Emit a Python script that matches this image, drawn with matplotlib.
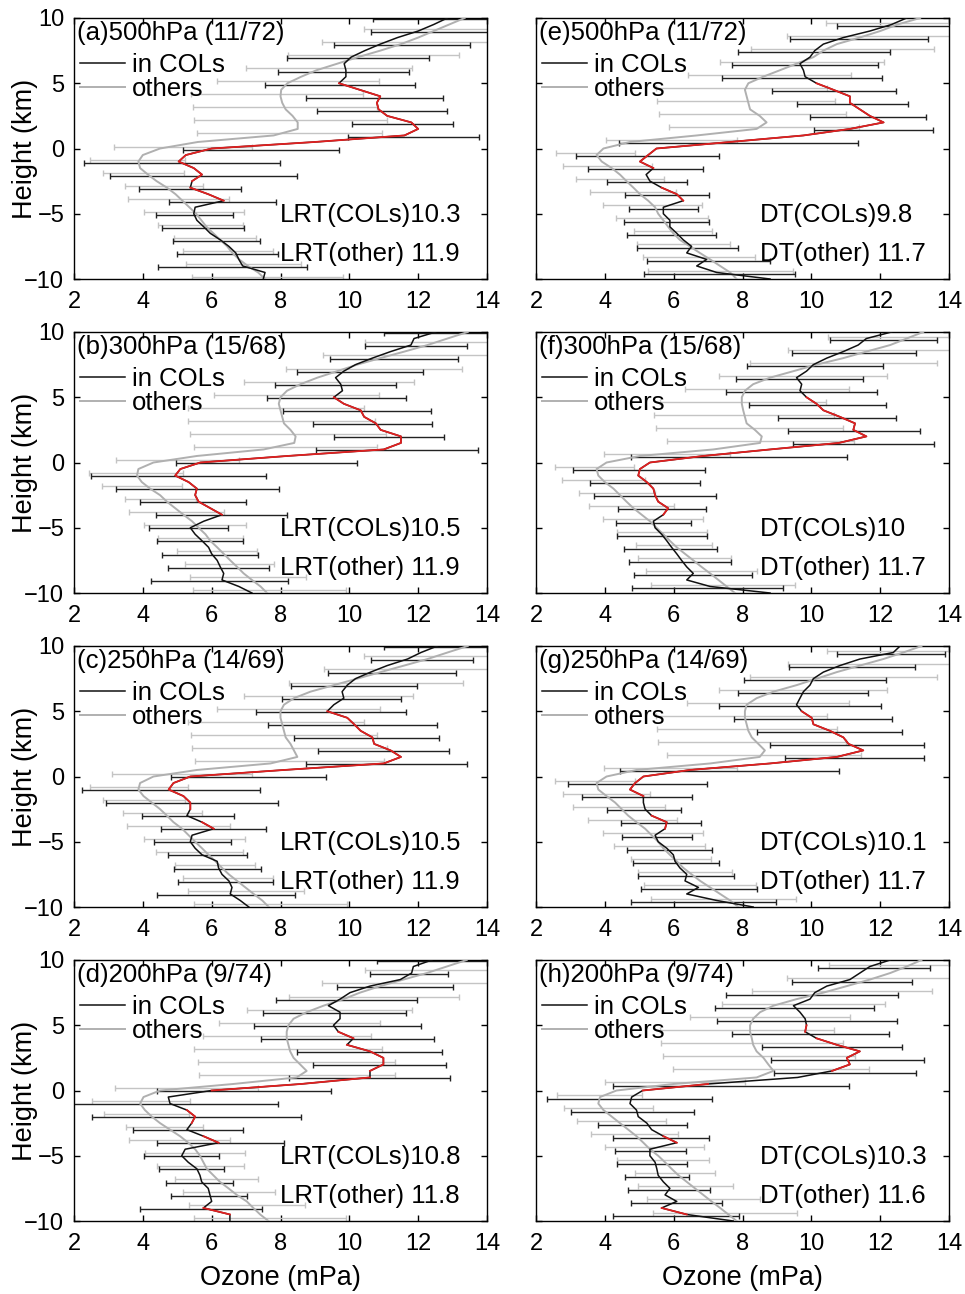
"""Ozone profiles relative to the tropopause, inside cut-off lows vs. other soundings.

Eight panels: left column uses the lapse-rate tropopause (LRT), right column the
dynamical tropopause (DT), rows are the COL detection level.
"""

import matplotlib
matplotlib.use("Agg")
import matplotlib.pyplot as plt
import numpy as np

plt.rcParams["font.family"] = ["Liberation Sans", "DejaVu Sans"]

# height relative to the tropopause (km), top to bottom, 0.5 km step
HEIGHTS = np.linspace(10, -10, 41)
N_BARS = 20

# ---------------------------------------------------------------- (a) LRT 500 hPa
A_COL = [12.85, 12.45, 12.0, 11.4, 10.9, 10.45, 10.05, 9.85, 9.9, 9.9,
         9.7, 10.3, 10.9, 10.8, 10.85, 11.1, 11.8, 12.0, 11.6, 9.0,
         6.0, 5.25, 5.04, 5.48, 5.72, 5.43, 5.38, 5.9, 6.35, 5.52,
         5.48, 5.57, 5.77, 5.96, 6.25, 6.5, 6.7, 6.79, 6.9, 7.55, 7.5]
A_OTH = [13.35, 12.9, 12.45, 12.0, 11.5, 10.9, 10.25, 9.65, 9.05, 8.6,
         8.2, 8.02, 8.0, 8.05, 8.15, 8.35, 8.5, 8.5, 7.8, 5.6,
         4.5, 4.0, 3.87, 3.92, 4.15, 4.4, 4.7, 4.95, 5.15, 5.35,
         5.55, 5.7, 5.85, 6.05, 6.25, 6.45, 6.6, 6.8, 7.05, 7.35, 7.55]
A_COL_LO = [10.7, 10.62, 9.55, 8.19, 7.92, 7.56, 8.75, 9.07, 10.09, 9.96,
            5.18, 2.29, 3.05, 3.9, 4.77, 4.39, 4.57, 4.89, 4.99, 4.43]
A_COL_HI = [14.5, 14.3, 13.5, 12.32, 11.74, 11.91, 12.71, 12.83, 13.0, 13.78,
            9.7, 7.98, 8.47, 6.85, 7.88, 6.62, 6.93, 7.39, 7.92, 8.76]
A_OTH_LO = [10.43, 9.21, 8.21, 7.0, 6.16, 5.4, 5.46, 5.5, 5.57, 3.15,
            2.47, 2.85, 3.47, 3.56, 4.02, 4.43, 4.92, 5.16, 5.25, 5.43]
A_OTH_HI = [14.3, 14.5, 13.19, 11.81, 10.86, 10.4, 10.8, 11.1, 10.95, 7.17,
            5.23, 5.2, 5.74, 6.5, 6.95, 6.91, 7.3, 7.78, 8.61, 9.83]

# ---------------------------------------------------------------- (b) LRT 300 hPa
B_COL = [12.51, 11.88, 11.79, 11.2, 10.67, 10.18, 9.84, 9.6, 9.75, 9.8,
         9.55, 9.84, 10.33, 10.43, 10.77, 10.91, 11.5, 11.5, 11.0, 8.2,
         5.67, 5.09, 4.94, 5.33, 5.57, 5.52, 5.62, 5.96, 6.3, 5.77,
         5.38, 5.52, 5.72, 5.91, 6.0, 6.16, 6.25, 6.35, 6.3, 6.79, 7.17]
B_OTH = [13.44, 12.85, 12.27, 11.6, 10.9, 10.23, 9.65, 9.07, 8.58, 8.19,
         8.0, 7.95, 8.0, 8.05, 8.1, 8.29, 8.44, 8.4, 7.51, 5.57,
         4.31, 3.87, 3.83, 3.97, 4.21, 4.5, 4.7, 4.94, 5.18, 5.43,
         5.62, 5.82, 5.96, 6.16, 6.35, 6.54, 6.74, 6.93, 7.17, 7.42, 7.61]
B_COL_LO = [11.0, 10.46, 9.44, 8.47, 7.85, 7.61, 8.07, 8.94, 9.55, 9.02,
            4.97, 2.5, 3.21, 3.92, 4.38, 4.17, 4.41, 4.57, 4.72, 4.23]
B_COL_HI = [14.5, 13.41, 13.17, 12.13, 11.35, 11.64, 12.37, 12.39, 12.76, 13.73,
            10.21, 7.58, 7.95, 7.0, 8.19, 6.47, 6.91, 7.34, 7.66, 8.21]
B_OTH_LO = [10.46, 9.23, 8.17, 6.95, 6.08, 5.3, 5.3, 5.36, 5.5, 3.22,
            2.44, 2.8, 3.47, 3.61, 4.04, 4.43, 4.99, 5.23, 5.36, 5.46]
B_OTH_HI = [14.3, 14.4, 13.27, 11.88, 10.86, 10.43, 10.74, 11.06, 10.8, 6.79,
            5.18, 5.14, 5.55, 6.37, 7.0, 6.91, 7.32, 7.81, 8.73, 9.89]

# ---------------------------------------------------------------- (c) LRT 250 hPa
C_COL = [12.56, 12.08, 11.69, 11.1, 10.62, 10.18, 9.94, 9.79, 9.84, 9.55,
         9.36, 9.94, 10.14, 10.33, 10.67, 10.72, 11.2, 11.5, 11.0, 8.1,
         5.38, 4.89, 4.75, 5.18, 5.38, 5.38, 5.28, 5.72, 6.06, 5.43,
         5.38, 5.52, 5.72, 6.16, 6.2, 6.3, 6.5, 6.59, 6.54, 6.83, 7.08]
C_OTH = [13.44, 12.85, 12.27, 11.59, 10.91, 10.23, 9.55, 8.87, 8.39, 8.1,
         8.0, 8.0, 8.05, 8.1, 8.15, 8.29, 8.39, 8.49, 7.71, 5.57,
         4.31, 3.92, 3.87, 4.02, 4.26, 4.5, 4.7, 4.89, 5.14, 5.33,
         5.52, 5.72, 5.91, 6.11, 6.3, 6.5, 6.74, 6.98, 7.22, 7.47, 7.66]
C_COL_LO = [11.0, 10.62, 9.38, 8.31, 8.05, 7.29, 7.64, 8.39, 9.09, 8.75,
            4.83, 2.22, 2.92, 3.99, 4.53, 4.31, 4.73, 4.92, 5.02, 4.41]
C_COL_HI = [14.5, 13.58, 13.1, 11.98, 11.5, 11.66, 12.56, 12.61, 12.9, 13.42,
            9.31, 7.4, 7.92, 6.64, 7.58, 6.56, 7.03, 7.44, 7.78, 8.41]
C_OTH_LO = [10.43, 9.26, 8.24, 6.93, 6.16, 5.3, 5.4, 5.43, 5.52, 3.1,
            2.47, 2.83, 3.42, 3.55, 4.02, 4.39, 4.94, 5.16, 5.3, 5.48]
C_OTH_HI = [14.3, 14.4, 13.29, 11.85, 10.89, 10.43, 10.8, 11.1, 11.0, 7.17,
            5.3, 5.23, 5.72, 6.52, 6.98, 6.9, 7.27, 7.78, 8.68, 9.92]

# ---------------------------------------------------------------- (d) LRT 200 hPa
D_COL = [12.4, 11.86, 11.81, 11.48, 10.6, 10.02, 9.73, 9.39, 9.73, 9.73,
         9.54, 9.68, 10.12, 9.93, 10.6, 10.99, 10.99, 10.6, 10.6, 8.6,
         6.0, 4.74, 4.79, 5.28, 5.52, 5.42, 5.28, 5.76, 6.2, 5.23,
         5.13, 5.32, 5.57, 5.66, 5.71, 5.9, 5.95, 6.0, 5.76, 6.53, 6.53]
D_OTH = [13.41, 12.83, 12.25, 11.57, 10.9, 10.31, 9.83, 9.25, 8.76, 8.38,
         8.23, 8.18, 8.18, 8.23, 8.28, 8.38, 8.57, 8.76, 8.47, 6.63,
         4.5, 4.02, 3.92, 4.06, 4.26, 4.5, 4.79, 5.08, 5.32, 5.52,
         5.66, 5.76, 5.86, 6.05, 6.24, 6.49, 6.73, 7.02, 7.21, 7.41, 7.65]
D_COL_LO = [10.8, 10.59, 9.64, 7.87, 7.5, 7.23, 7.44, 8.49, 8.94, 8.26,
            4.4, 1.79, 2.51, 3.71, 4.42, 4.04, 4.48, 4.66, 4.82, 3.92]
D_COL_HI = [14.5, 12.88, 13.0, 11.96, 11.64, 12.08, 12.47, 12.69, 12.81, 12.93,
            9.47, 7.94, 8.6, 6.92, 8.09, 6.2, 6.37, 6.63, 7.04, 7.47]
D_OTH_LO = [10.46, 9.2, 8.26, 7.04, 6.22, 5.75, 5.49, 5.59, 5.63, 3.19,
            2.53, 2.87, 3.5, 3.61, 4.06, 4.42, 4.94, 5.16, 5.34, 5.5]
D_OTH_HI = [14.3, 14.4, 13.2, 11.82, 10.88, 10.62, 10.96, 11.33, 11.33, 7.36,
            5.37, 5.34, 5.74, 6.52, 6.97, 6.94, 7.36, 7.84, 8.71, 9.9]

# ---------------------------------------------------------------- (e) DT 500 hPa
E_COL = [12.77, 12.33, 11.7, 10.93, 10.35, 10.1, 9.96, 9.67, 9.77, 9.82,
         10.15, 10.64, 11.12, 11.12, 11.41, 11.7, 12.1, 11.12, 9.77, 7.64,
         5.5, 5.26, 5.02, 5.41, 5.2, 5.31, 5.65, 6.09, 6.28, 5.7,
         5.7, 5.89, 5.89, 6.09, 6.28, 6.52, 6.38, 6.96, 6.67, 7.25, 8.8]
E_OTH = [13.16, 12.5, 12.0, 11.4, 10.74, 10.35, 10.06, 9.57, 9.09, 8.6,
         8.17, 8.07, 8.12, 8.17, 8.22, 8.5, 8.7, 8.41, 6.67, 4.73,
         3.96, 3.76, 3.91, 4.2, 4.44, 4.63, 4.83, 5.02, 5.26, 5.46,
         5.55, 5.7, 5.84, 5.99, 6.18, 6.47, 6.76, 7.06, 7.35, 7.64, 7.83]
E_COL_LO = [10.74, 9.38, 7.88, 7.7, 7.39, 8.85, 9.57, 9.96, 10.08, 4.42,
            3.16, 3.5, 4.05, 4.6, 4.69, 4.56, 4.63, 4.94, 5.22, 5.14]
E_COL_HI = [14.3, 13.4, 12.29, 11.93, 12.06, 12.45, 12.82, 13.32, 13.54, 11.37,
            7.32, 6.86, 6.38, 7.04, 6.72, 7.03, 7.23, 7.88, 8.8, 9.53]
E_OTH_LO = [10.43, 9.3, 8.24, 7.35, 6.41, 5.5, 5.53, 5.58, 5.86, 4.03,
            2.57, 2.77, 3.15, 3.57, 3.94, 4.31, 4.86, 4.94, 5.12, 5.26]
E_OTH_HI = [14.4, 14.3, 13.56, 12.11, 11.14, 10.45, 10.69, 11.0, 11.39, 7.85,
            4.88, 5.36, 5.73, 6.06, 6.81, 7.01, 7.1, 7.64, 8.36, 9.48]

# ---------------------------------------------------------------- (f) DT 300 hPa
F_COL = [12.33, 11.6, 11.36, 10.93, 10.45, 10.06, 9.86, 9.57, 9.72, 9.67,
         9.86, 10.15, 10.35, 10.83, 11.27, 11.22, 11.6, 10.8, 8.8, 6.86,
         5.31, 5.02, 4.97, 5.22, 5.41, 5.46, 5.55, 5.84, 5.7, 5.41,
         5.46, 5.65, 5.8, 5.94, 6.09, 6.23, 6.38, 6.57, 6.38, 7.06, 8.8]
F_OTH = [13.25, 12.77, 12.29, 11.6, 10.93, 10.15, 9.48, 8.8, 8.31, 8.07,
         7.98, 7.98, 8.02, 8.07, 8.12, 8.36, 8.56, 8.51, 7.15, 5.02,
         4.05, 3.76, 3.81, 4.0, 4.25, 4.44, 4.63, 4.83, 5.07, 5.31,
         5.5, 5.7, 5.89, 6.09, 6.33, 6.57, 6.81, 7.06, 7.3, 7.54, 7.78]
F_COL_LO = [10.54, 9.43, 8.14, 7.8, 7.51, 8.19, 9.02, 9.31, 9.48, 4.76,
            3.08, 3.57, 3.69, 4.39, 4.31, 4.34, 4.57, 4.7, 4.85, 4.8]
F_COL_HI = [13.66, 13.04, 12.09, 11.51, 11.92, 12.16, 12.45, 13.16, 13.57, 11.05,
            6.91, 6.77, 7.22, 6.94, 6.49, 6.98, 7.27, 7.67, 8.27, 9.17]
F_OTH_LO = [10.49, 9.31, 8.22, 7.33, 6.33, 5.6, 5.43, 5.49, 5.8, 3.99,
            2.55, 2.75, 3.25, 3.54, 3.96, 4.34, 4.9, 4.97, 5.19, 5.33]
F_OTH_HI = [14.4, 14.3, 13.66, 12.21, 11.1, 10.43, 10.66, 10.91, 11.24, 7.64,
            4.85, 5.17, 5.46, 6.01, 6.86, 6.98, 7.1, 7.66, 8.41, 9.53]

# ---------------------------------------------------------------- (g) DT 250 hPa
G_COL = [12.58, 12.38, 11.41, 10.83, 10.35, 10.06, 9.96, 9.77, 9.67, 9.57,
         9.72, 10.01, 10.06, 10.54, 10.93, 11.08, 11.51, 10.74, 8.8, 6.47,
         5.12, 4.88, 4.73, 5.12, 5.12, 5.17, 5.36, 5.8, 5.75, 5.46,
         5.55, 5.8, 5.99, 6.04, 6.18, 6.38, 6.33, 6.72, 6.38, 7.25, 8.31]
G_OTH = [13.2, 12.67, 12.09, 11.41, 10.74, 10.16, 9.57, 8.9, 8.41, 8.12,
         8.07, 8.07, 8.12, 8.17, 8.27, 8.46, 8.65, 8.5, 7.06, 4.92,
         4.05, 3.76, 3.81, 4.05, 4.3, 4.49, 4.68, 4.92, 5.17, 5.36,
         5.55, 5.7, 5.89, 6.09, 6.28, 6.52, 6.77, 7.06, 7.35, 7.64, 7.88]
G_COL_LO = [10.74, 9.36, 8.04, 7.88, 7.32, 7.76, 8.43, 8.8, 9.23, 4.44,
            2.94, 3.33, 4.07, 4.46, 4.51, 4.63, 4.81, 4.97, 5.04, 4.75]
G_COL_HI = [13.88, 13.01, 12.16, 11.66, 12.01, 12.33, 12.64, 13.28, 13.27, 10.8,
            6.96, 6.54, 6.21, 6.78, 6.54, 7.12, 7.32, 7.75, 8.41, 8.97]
G_OTH_LO = [10.45, 9.33, 8.22, 7.32, 6.38, 5.5, 5.51, 5.55, 5.8, 3.98,
            2.55, 2.77, 3.08, 3.52, 3.94, 4.28, 4.76, 4.95, 5.15, 5.34]
G_OTH_HI = [14.4, 14.3, 13.64, 12.19, 11.1, 10.45, 10.76, 11.0, 11.43, 7.83,
            4.88, 5.31, 5.75, 6.09, 6.86, 6.91, 7.08, 7.7, 8.39, 9.55]

# ---------------------------------------------------------------- (h) DT 200 hPa
H_COL = [12.29, 11.7, 11.41, 11.12, 10.45, 10.1, 9.96, 9.48, 9.67, 9.82,
         9.86, 9.82, 10.15, 10.74, 11.41, 11.03, 11.12, 10.6, 9.6, 7.0,
         5.1, 4.78, 4.73, 4.92, 4.97, 5.22, 5.36, 5.7, 6.09, 5.31,
         5.31, 5.46, 5.51, 5.55, 5.7, 5.89, 5.75, 6.09, 5.65, 6.38, 7.73]
H_OTH = [13.2, 12.77, 12.29, 11.7, 11.03, 10.35, 9.57, 8.9, 8.51, 8.31,
         8.22, 8.22, 8.27, 8.31, 8.41, 8.61, 8.75, 8.9, 8.41, 6.0,
         4.34, 3.86, 3.81, 3.96, 4.2, 4.44, 4.68, 4.92, 5.12, 5.31,
         5.55, 5.75, 5.94, 6.14, 6.38, 6.62, 6.86, 7.1, 7.35, 7.59, 7.83]
H_COL_LO = [10.2, 9.45, 7.51, 7.2, 7.25, 7.69, 8.58, 8.82, 8.92, 4.25,
            2.31, 3.01, 3.81, 4.23, 4.3, 4.36, 4.59, 4.68, 4.76, 4.23]
H_COL_HI = [13.45, 12.93, 12.51, 11.82, 12.5, 12.26, 12.62, 13.27, 13.03, 11.08,
            7.1, 6.6, 6.38, 7.03, 6.35, 6.4, 6.45, 7.06, 7.41, 7.91]
H_OTH_LO = [10.52, 9.3, 8.27, 7.41, 6.47, 5.6, 5.62, 5.68, 5.97, 4.0,
            2.6, 2.81, 3.18, 3.6, 4.0, 4.34, 4.88, 4.97, 5.22, 5.39]
H_OTH_HI = [14.4, 14.3, 13.52, 12.14, 11.12, 10.66, 10.93, 11.27, 11.68, 8.07,
            5.07, 5.41, 5.78, 6.14, 6.88, 7.04, 7.2, 7.73, 8.51, 9.57]

# panel labels and mean tropopause heights (km)
TITLES = ["(a)500hPa (11/72)", "(b)300hPa (15/68)", "(c)250hPa (14/69)", "(d)200hPa (9/74)",
          "(e)500hPa (11/72)", "(f)300hPa (15/68)", "(g)250hPa (14/69)", "(h)200hPa (9/74)"]
TROP_KIND = ["LRT"] * 4 + ["DT"] * 4
TROP_COLS = ["10.3", "10.5", "10.5", "10.8", "9.8", "10", "10.1", "10.3"]
TROP_OTHER = ["11.9", "11.9", "11.9", "11.8", "11.7", "11.7", "11.7", "11.6"]

# height of the top std bar of each profile (bars every 1 km below)
COL_BAR_TOP = [9.9, 9.95, 9.95, 9.95, 9.4, 9.4, 9.4, 9.35]
OTH_BAR_TOP = [9.15, 9.2, 9.2, 9.2, 9.65, 9.65, 9.65, 9.65]

# height ranges (km) where the COL profile differs significantly (drawn red)
SIGNIF = [
    [(-2.5, 5.0), (-4.0, -3.0)],
    [(-4.0, 5.0)],
    [(-2.5, 5.0), (-4.0, -3.5)],
    [(4.0, 4.5), (1.5, 3.5), (0.0, 1.0), (-2.5, -1.5), (-4.0, -3.5), (-9.5, -9.0)],
    [(-1.5, 5.0), (-4.0, -3.0)],
    [(-4.0, 5.0)],
    [(-1.5, 5.0), (-4.0, -3.0)],
    [(4.5, 5.0), (1.5, 4.0), (0.0, 0.5), (-4.0, -3.5), (-9.5, -9.0)],
]

COLS = [A_COL, B_COL, C_COL, D_COL, E_COL, F_COL, G_COL, H_COL]
OTHS = [A_OTH, B_OTH, C_OTH, D_OTH, E_OTH, F_OTH, G_OTH, H_OTH]
COL_LO = [A_COL_LO, B_COL_LO, C_COL_LO, D_COL_LO, E_COL_LO, F_COL_LO, G_COL_LO, H_COL_LO]
COL_HI = [A_COL_HI, B_COL_HI, C_COL_HI, D_COL_HI, E_COL_HI, F_COL_HI, G_COL_HI, H_COL_HI]
OTH_LO = [A_OTH_LO, B_OTH_LO, C_OTH_LO, D_OTH_LO, E_OTH_LO, F_OTH_LO, G_OTH_LO, H_OTH_LO]
OTH_HI = [A_OTH_HI, B_OTH_HI, C_OTH_HI, D_OTH_HI, E_OTH_HI, F_OTH_HI, G_OTH_HI, H_OTH_HI]

BLACK = "#111111"
BAR_BLACK = "#222222"
GRAY = "#b0b0b0"
BAR_GRAY = "#c4c4c4"
RED = "#e02020"

TICK_FS = 17
TEXT_FS = 18.5
LABEL_FS = 19.5

# axes placement in figure pixels (965 x 1294)
FIG_W, FIG_H = 965, 1294
COL_X = [74, 536]
ROW_TOP = [18, 332, 646, 960]
AX_W, AX_H = 413, 261


def std_bars(ax, top, lo, hi, color):
    lo = np.asarray(lo)
    hi = np.asarray(hi)
    heights = top - np.arange(N_BARS)
    ax.errorbar((lo + hi) / 2, heights, xerr=(hi - lo) / 2, fmt="none",
                ecolor=color, elinewidth=1.0, capsize=2.3, capthick=1.0, zorder=2)


def draw_panel(ax, i, row, col):
    std_bars(ax, OTH_BAR_TOP[i], OTH_LO[i], OTH_HI[i], BAR_GRAY)
    std_bars(ax, COL_BAR_TOP[i], COL_LO[i], COL_HI[i], BAR_BLACK)

    cols = np.asarray(COLS[i])
    oth_line, = ax.plot(OTHS[i], HEIGHTS, color=GRAY, lw=1.4, zorder=3)
    col_line, = ax.plot(cols, HEIGHTS, color=BLACK, lw=1.1, zorder=4)
    for lo, hi in SIGNIF[i]:
        m = (HEIGHTS >= lo - 1e-9) & (HEIGHTS <= hi + 1e-9)
        ax.plot(cols[m], HEIGHTS[m], color=RED, lw=1.3, zorder=5)

    ax.set_xlim(2, 14)
    ax.set_ylim(-10, 10)
    ax.set_xticks(range(2, 15, 2))
    ax.set_yticks([-10, -5, 0, 5, 10])
    ax.tick_params(direction="in", top=True, right=True, length=4, width=1.0,
                   labelsize=TICK_FS, pad=7)
    ax.tick_params(axis="x", pad=9)
    if col == 1:
        ax.tick_params(axis="y", labelleft=False)
    else:
        ax.set_ylabel("Height (km)", fontsize=LABEL_FS)
        ax.yaxis.set_label_coords(-0.087, 0.5)
    if row == 3:
        ax.set_xlabel("Ozone (mPa)", fontsize=LABEL_FS)
        ax.xaxis.set_label_coords(0.5, -0.17)
    for sp in ax.spines.values():
        sp.set_linewidth(1.0)

    ax.text(0.008, 0.99, TITLES[i], transform=ax.transAxes, fontsize=TEXT_FS,
            va="top", ha="left")
    ax.legend([col_line, oth_line], ["in COLs", "others"], loc="upper left",
              bbox_to_anchor=(0.0, 0.89), frameon=False, fontsize=TEXT_FS,
              handlelength=1.75, handletextpad=0.25, labelspacing=0.0,
              borderpad=0.0, borderaxespad=0.25)
    kind = TROP_KIND[i]
    x_txt = 0.499 if col == 0 else 0.542
    ax.text(x_txt, 0.245, f"{kind}(COLs){TROP_COLS[i]}", transform=ax.transAxes,
            fontsize=TEXT_FS, va="center", ha="left")
    ax.text(x_txt, 0.095, f"{kind}(other) {TROP_OTHER[i]}", transform=ax.transAxes,
            fontsize=TEXT_FS, va="center", ha="left")


def main():
    fig = plt.figure(figsize=(FIG_W / 100, FIG_H / 100), dpi=100)
    for i in range(8):
        col, row = divmod(i, 4)
        x0 = COL_X[col] / FIG_W
        y0 = 1 - (ROW_TOP[row] + AX_H) / FIG_H
        ax = fig.add_axes([x0, y0, AX_W / FIG_W, AX_H / FIG_H])
        draw_panel(ax, i, row, col)
    fig.savefig("out.png", dpi=100)
    plt.close(fig)


if __name__ == "__main__":
    main()
